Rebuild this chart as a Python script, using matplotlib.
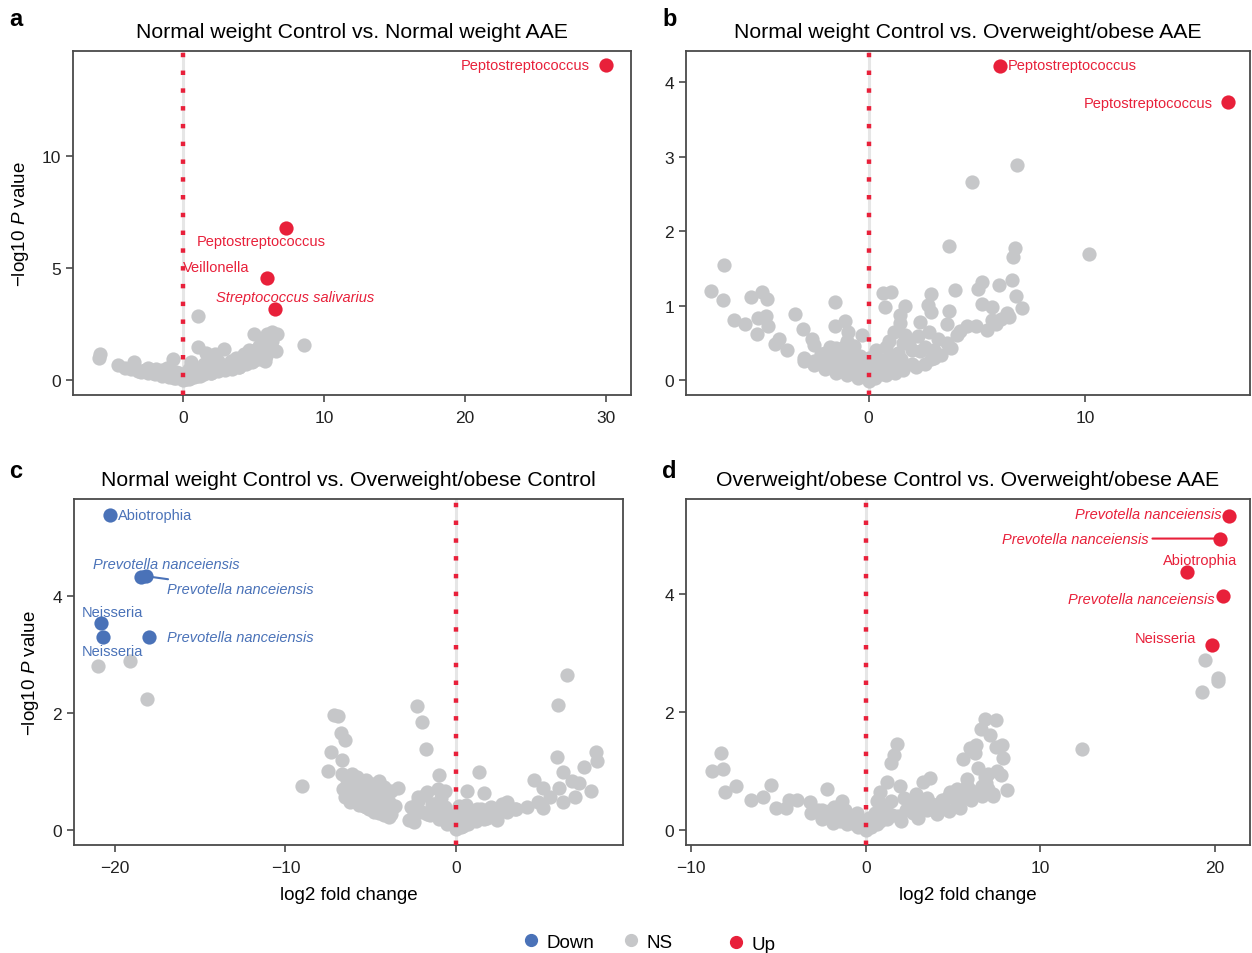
import matplotlib
matplotlib.use("Agg")
import matplotlib.pyplot as plt
from matplotlib.lines import Line2D

plt.rcParams['font.family'] = ['Liberation Sans', 'DejaVu Sans']
plt.rcParams['mathtext.fontset'] = 'custom'
plt.rcParams['mathtext.rm'] = 'Liberation Sans'
plt.rcParams['mathtext.it'] = 'Liberation Sans:italic'

RED = '#E8203A'
BLUE = '#4A72B8'
GREY = '#C6C7C9'

# ---- panel a: Normal weight Control vs. Normal weight AAE
a_ns_x = [-5.98, -5.9, -4.6, -4.1, -3.5, -3.2, -1.9, -0.67, 1.04, 5.07, 6.3, 6.7, 8.6, 1.04, 2.9,
          1.66, 2.25, 6.6, 4.7, 5.8, 3.4, 0.6, 6.0, 5.6, 5.4, 5.1, 4.6, 4.1, 3.5, 2.8, 2.0, 1.2,
          0.44, 0.0, -0.6, -1.4, -2.15, -2.9, -3.7, -1.1, -2.5, 0.44, 1.5, 2.5, 2.0, 2.4, 3.8,
          4.3, 4.8, 5.4, 5.9, 6.3, 5.85, -0.3, 0.7, 0.96, -0.85, 3.0, 3.6, 4.4, 1.8, 2.6, 3.2,
          -1.6, -2.7, 0.2, 1.4, 4.0, 4.9, 5.2,
          -3.0, -2.5, -2.0, -1.5, -1.0, -0.5, 0.2, 0.5, 0.8, 1.0, 1.5, 2.0, 2.5, 3.0, 3.5, 4.0,
          4.5, 5.0, -2.5, -1.5, -0.5, 0.5, 1.5, 2.5, 3.5, 4.5, 5.2, 5.6, 6.0, 6.4]
a_ns_y = [1.0, 1.15, 0.67, 0.55, 0.8, 0.4, 0.5, 0.93, 2.84, 2.07, 2.16, 2.07, 1.57, 1.48, 1.37,
          1.19, 1.15, 1.3, 1.34, 0.85, 0.85, 0.8, 2.04, 1.75, 1.52, 1.22, 1.0, 0.8, 0.63, 0.48,
          0.33, 0.18, 0.03, 0.0, 0.1, 0.25, 0.33, 0.4, 0.48, 0.55, 0.48, 0.48, 0.7, 0.85, 1.0,
          0.7, 1.0, 1.15, 1.3, 0.93, 1.07, 1.75, 1.6, 0.33, 0.33, 0.55, 0.4, 0.6, 0.75, 0.9,
          0.45, 0.7, 0.55, 0.3, 0.45, 0.15, 0.3, 0.6, 0.8, 1.1,
          0.35, 0.3, 0.25, 0.2, 0.15, 0.08, 0.05, 0.1, 0.15, 0.2, 0.25, 0.3, 0.38, 0.45, 0.5,
          0.6, 0.7, 0.85, 0.55, 0.45, 0.35, 0.4, 0.55, 0.65, 0.8, 1.0, 1.2, 1.4, 1.6, 1.95]
a_up_x = [30.0, 7.3, 5.95, 6.57]
a_up_y = [14.06, 6.8, 4.54, 3.19]
a_up_lab = ['Peptostreptococcus', 'Peptostreptococcus', 'Veillonella', 'Streptococcus salivarius']

# ---- panel b: Normal weight Control vs. Overweight/obese AAE
b_ns_x = [6.84, 4.76, 3.70, 6.76, 6.67, 10.17, -6.66, -7.28, -6.74, -5.43, -4.91, -4.71, -6.22,
          -5.71, -5.13, -4.74, -4.66, -3.39, -3.03, -1.55, -1.56, -1.09, -0.96, -5.16, -4.12,
          -4.34, -3.75, -2.99, -2.52, 0.67, 1.04, 0.77, 1.68, 2.89, 4.0, 5.21, 5.04, 6.0, 6.62,
          6.82, 7.06, 5.24, 5.71, 6.39, 3.70, 3.63, 2.74, 2.86, 1.43, 1.43, 2.35, 1.18, 1.68,
          2.77, 3.19, 4.07, 4.54, 4.96, 5.46, 5.71, 6.13, 3.78, 3.36, 2.86, 2.27, 0.92, 0.34,
          1.85, 1.34, 2.35, 2.02, 1.34, 0.67, 0.17, 0.0, -0.5, -1.18, -1.68, -2.18, -2.52,
          -2.02, -1.51, -1.01, -0.67, -0.42, -0.84, -1.34, -1.85, -0.25, 0.42, 0.92, 1.51,
          3.03, 4.2, -1.09, 0.3, 0.55, 1.0, -0.3, -0.7, 2.6, 3.6, 5.9, 6.5,
          -3.0, -2.5, -2.0, -1.5, -1.0, -0.5, 0.3, 0.8, 1.2, 1.6, 2.2, 2.6, 3.0, -2.2, -1.2,
          -0.4, 0.4, 1.2, 2.0, -1.8, -0.8, 0.0, 0.8, 1.6, -0.3, -2.6]
b_ns_y = [2.89, 2.66, 1.80, 1.78, 1.66, 1.70, 1.55, 1.20, 1.07, 1.11, 1.18, 1.09, 0.81, 0.76,
          0.84, 0.86, 0.72, 0.89, 0.68, 1.05, 0.72, 0.80, 0.64, 0.62, 0.55, 0.49, 0.40, 0.30,
          0.47, 1.17, 1.19, 0.98, 0.99, 1.16, 1.21, 1.32, 1.23, 1.28, 1.35, 1.13, 0.97, 1.02,
          0.98, 0.90, 0.93, 0.76, 1.01, 0.91, 0.87, 0.77, 0.78, 0.64, 0.61, 0.64, 0.55, 0.61,
          0.72, 0.73, 0.67, 0.81, 0.82, 0.43, 0.34, 0.29, 0.59, 0.52, 0.41, 0.48, 0.37, 0.39,
          0.21, 0.14, 0.08, 0.03, -0.01, 0.05, 0.12, 0.17, 0.21, 0.26, 0.37, 0.43, 0.52, 0.46,
          0.32, 0.28, 0.28, 0.30, 0.21, 0.28, 0.32, 0.28, 0.41, 0.66, 0.46, 0.15, 0.22, 0.2,
          0.12, 0.2, 0.45, 0.5, 0.75, 0.85,
          0.25, 0.2, 0.15, 0.1, 0.07, 0.03, 0.03, 0.07, 0.1, 0.13, 0.17, 0.22, 0.3, 0.35, 0.3,
          0.2, 0.2, 0.3, 0.4, 0.45, 0.45, 0.3, 0.45, 0.5, 0.6, 0.55]
b_up_x = [6.05, 16.6]
b_up_y = [4.22, 3.74]
b_up_lab = ['Peptostreptococcus', 'Peptostreptococcus']

# ---- panel c: Normal weight Control vs. Overweight/obese Control
c_ns_x = [-20.99, -19.1, -18.1, 6.54, 5.97, -2.26, -1.97, -1.78, -7.15, -6.9, -6.73, -6.52,
          -7.3, -6.69, -7.53, -9.04, 5.95, 8.22, 8.3, 7.53, 6.27, 4.59, 5.12, 6.06, 6.79, 7.21,
          7.95, 7.0, 6.27, 5.53, 4.8, 4.17, 5.12, 1.34, 1.66, 0.67, -1.0, -0.65, -1.07, -1.7,
          -2.22, -1.28, -2.64, -2.75, -2.43, -1.7, -0.65, -0.96, -0.44, 0.0, 0.4, 1.03, 1.66,
          2.39, 0.61, 1.24, 2.08, 2.7, 3.02, 3.44, 2.52, 1.89, -6.1, -6.0, -6.42, -6.52, -6.21,
          -5.68, -5.26, -4.63, -4.21, -3.79, -3.69, -3.9, -3.37, -3.79, -4.21, -4.53, -4.95,
          -5.47, -5.68, -5.16, -4.63, -4.21, -4.84, -5.47, -6.3, -5.9, -5.0, -4.4, 0.9, 1.9,
          2.9, -0.3, 0.2,
          -6.6, -6.3, -6.0, -5.7, -5.4, -5.1, -4.8, -4.5, -4.2, -3.9, -6.4, -6.0, -5.6, -5.2,
          -4.8, -4.4, -4.0, -3.6, -5.8, -5.3, -4.9, -4.5, -6.7,
          -2.5, -2.0, -1.5, -1.0, -0.5, 0.3, 0.7, 1.2, 1.8, 2.4, 3.0, 3.5, -2.2, -1.4, -0.8,
          -0.3, 0.5, 1.0, 1.5, 2.0, -1.8, -0.9, 0.2]
c_ns_y = [2.81, 2.89, 2.23, 2.65, 2.13, 2.11, 1.85, 1.39, 1.96, 1.94, 1.65, 1.54, 1.33, 1.19,
          1.0, 0.75, 1.25, 1.33, 1.17, 1.07, 0.99, 0.86, 0.71, 0.71, 0.83, 0.80, 0.66, 0.56,
          0.47, 0.56, 0.47, 0.39, 0.37, 0.99, 0.63, 0.67, 0.94, 0.66, 0.69, 0.65, 0.56, 0.45,
          0.39, 0.16, 0.14, 0.27, 0.39, 0.22, 0.13, 0.02, 0.07, 0.16, 0.19, 0.16, 0.42, 0.36,
          0.39, 0.45, 0.47, 0.36, 0.30, 0.27, 0.96, 0.85, 0.73, 0.56, 0.47, 0.42, 0.39, 0.33,
          0.30, 0.27, 0.39, 0.47, 0.72, 0.67, 0.73, 0.83, 0.79, 0.79, 0.65, 0.59, 0.56, 0.45,
          0.47, 0.53, 0.65, 0.6, 0.5, 0.6, 0.25, 0.3, 0.35, 0.12, 0.1,
          0.7, 0.6, 0.5, 0.45, 0.4, 0.35, 0.3, 0.28, 0.25, 0.22, 0.85, 0.75, 0.65, 0.6, 0.55,
          0.5, 0.45, 0.4, 0.9, 0.85, 0.7, 0.65, 0.95,
          0.35, 0.3, 0.25, 0.18, 0.1, 0.05, 0.1, 0.15, 0.2, 0.25, 0.3, 0.35, 0.5, 0.45, 0.35,
          0.25, 0.25, 0.3, 0.35, 0.38, 0.6, 0.55, 0.4]
c_down_x = [-20.29, -18.46, -18.19, -20.82, -20.67, -18.0]
c_down_y = [5.39, 4.33, 4.34, 3.54, 3.30, 3.30]
c_down_lab = ['Abiotrophia', 'Prevotella nanceiensis', 'Prevotella nanceiensis',
              'Neisseria', 'Neisseria', 'Prevotella nanceiensis']

# ---- panel d: Overweight/obese Control vs. Overweight/obese AAE
d_ns_x = [19.44, 20.17, 20.17, 19.23, 12.4, -8.3, -8.83, -8.2, -8.06, -7.43, -5.45, -6.6, -5.91,
          -5.14, -4.57, -4.4, -3.92, -3.19, -2.25, -1.38, -3.15, -2.53, -1.9, -1.06, -0.44, 0.0,
          0.61, 1.23, 1.86, 2.69, 3.53, 4.36, 5.2, 6.03, 6.66, 7.29, 1.8, 1.61, 1.44, 1.23, 1.96,
          0.79, 0.71, 3.7, 3.28, 2.9, 2.17, 1.44, 2.0, 3.0, 4.05, 6.83, 7.48, 6.62, 7.12, 5.97,
          6.28, 6.24, 7.46, 7.81, 7.87, 5.57, 6.41, 5.78, 6.97, 7.75, 8.06, 5.2, 7.29, 4.68,
          4.36, 5.62, 6.45, 6.66, 5.41, 4.78, -1.27, -1.69, -2.11, -2.73, -0.65, 0.61, 1.13,
          3.2, 4.9, 5.9, 6.9, 2.4,
          -2.0, -1.5, -1.0, -0.6, -2.5, -1.8, -1.2, -0.5, 0.3, 0.8, 1.5, 2.3, 3.0, 3.8, 4.5,
          5.5, 6.3, 7.0, 0.5, 1.0, 2.5, 3.5, 4.8, 5.8, 6.8, 7.5, 0.2, -0.3]
d_ns_y = [2.88, 2.58, 2.52, 2.34, 1.37, 1.30, 1.01, 1.03, 0.65, 0.75, 0.77, 0.51, 0.56, 0.38,
          0.38, 0.52, 0.51, 0.48, 0.69, 0.50, 0.30, 0.19, 0.13, 0.10, 0.05, 0.0, 0.10, 0.19,
          0.24, 0.30, 0.35, 0.41, 0.47, 0.52, 0.58, 0.61, 1.46, 1.28, 1.14, 0.81, 0.75, 0.64,
          0.52, 0.89, 0.81, 0.62, 0.55, 0.50, 0.16, 0.21, 0.27, 1.88, 1.86, 1.72, 1.61, 1.39,
          1.44, 1.30, 1.41, 1.44, 1.22, 1.20, 1.05, 0.87, 0.95, 0.93, 0.68, 0.69, 0.58, 0.56,
          0.51, 0.58, 0.64, 0.75, 0.38, 0.33, 0.33, 0.27, 0.33, 0.35, 0.21, 0.50, 0.35, 0.45,
          0.6, 0.7, 0.8, 0.4,
          0.2, 0.15, 0.2, 0.1, 0.35, 0.4, 0.35, 0.3, 0.05, 0.15, 0.25, 0.35, 0.4, 0.45, 0.5,
          0.55, 0.65, 0.7, 0.3, 0.4, 0.5, 0.55, 0.65, 0.75, 0.9, 1.0, 0.2, 0.15]
d_up_x = [20.81, 20.31, 18.41, 20.48, 19.85]
d_up_y = [5.32, 4.94, 4.37, 3.96, 3.14]
d_up_lab = ['Prevotella nanceiensis', 'Prevotella nanceiensis', 'Abiotrophia',
            'Prevotella nanceiensis', 'Neisseria']

legend_labels = ['Down', 'NS', 'Up']
legend_colors = [BLUE, GREY, RED]

fig = plt.figure(figsize=(12.52, 9.54), dpi=100)
W, H = 1252.0, 954.0


def make_ax(l, r, t, b):
    return fig.add_axes([l / W, 1 - b / H, (r - l) / W, (b - t) / H])


def style(ax, title, xlim, ylim, xt, yt):
    ax.set_xlim(*xlim)
    ax.set_ylim(*ylim)
    ax.set_xticks(xt)
    ax.set_yticks(yt)
    ax.set_title(title, fontsize=15.3, pad=10)
    for s in ax.spines.values():
        s.set_color('#4a4a4a')
        s.set_linewidth(1.3)
    ax.tick_params(direction='out', length=5, width=1.2, color='#4a4a4a', labelsize=12.5,
                   labelcolor='#222222')
    ax.tick_params(axis='x', pad=6)
    ax.axvline(0, color='#e6e6e6', lw=2.2, zorder=1)


def volcano(ax, nsx, nsy):
    ax.scatter(nsx, nsy, s=105, color=GREY, linewidths=0, zorder=2)
    ax.axvline(0, color=RED, lw=3.2, linestyle=(0, (1, 3)), zorder=3, dash_capstyle='butt')


def label(ax, x, y, txt, off, color, ha='left', italic=False, line=False):
    kw = dict(xy=(x, y), xytext=off, textcoords='offset points', ha=ha, va='center',
              fontsize=10.5, color=color, zorder=6)
    if italic:
        kw['fontstyle'] = 'italic'
    if line:
        kw['arrowprops'] = dict(arrowstyle='-', color=color, lw=1.5, shrinkA=1, shrinkB=3)
    ax.annotate(txt, **kw)


# a
ax = make_ax(73, 631, 52, 396)
style(ax, 'Normal weight Control vs. Normal weight AAE', (-7.8, 31.8), (-0.67, 14.7),
      [0, 10, 20, 30], [0, 5, 10])
volcano(ax, a_ns_x, a_ns_y)
ax.scatter(a_up_x, a_up_y, s=105, color=RED, linewidths=0, zorder=5)
ax.set_ylabel('−log10 $P$ value', fontsize=13.5, labelpad=8)
a_off = [(-11.5, 0), (-64, -9.4), (-60.5, 8), (-42.5, 8.6)]
a_ha = ['right', 'left', 'left', 'left']
a_ital = [False, False, False, True]
for x, y, t, o, h, it in zip(a_up_x, a_up_y, a_up_lab, a_off, a_ha, a_ital):
    label(ax, x, y, t, o, RED, ha=h, italic=it)

# b
ax = make_ax(686, 1250, 52, 396)
style(ax, 'Normal weight Control vs. Overweight/obese AAE', (-8.43, 17.6), (-0.2, 4.42),
      [0, 10], [0, 1, 2, 3, 4])
volcano(ax, b_ns_x, b_ns_y)
ax.scatter(b_up_x, b_up_y, s=105, color=RED, linewidths=0, zorder=5)
label(ax, b_up_x[0], b_up_y[0], b_up_lab[0], (5.5, 0.7), RED, ha='left')
label(ax, b_up_x[1], b_up_y[1], b_up_lab[1], (-11.5, -0.7), RED, ha='right')

# c
ax = make_ax(74, 623, 500, 846)
style(ax, 'Normal weight Control vs. Overweight/obese Control', (-22.4, 9.8), (-0.26, 5.66),
      [-20, -10, 0], [0, 2, 4])
volcano(ax, c_ns_x, c_ns_y)
ax.scatter(c_down_x, c_down_y, s=105, color=BLUE, linewidths=0, zorder=5)
ax.set_ylabel('−log10 $P$ value', fontsize=13.5, labelpad=8)
ax.set_xlabel('log2 fold change', fontsize=13.5, labelpad=8)
c_off = [(5.8, 0), (-35, 9.4), (15, -9.4), (-13.7, 7.9), (-15.8, -10), (13, 0)]
c_ital = [False, True, True, False, False, True]
c_line = [False, False, True, False, False, False]
for x, y, t, o, it, ln in zip(c_down_x, c_down_y, c_down_lab, c_off, c_ital, c_line):
    label(ax, x, y, t, o, BLUE, italic=it, line=ln)

# d
ax = make_ax(686, 1250, 500, 846)
style(ax, 'Overweight/obese Control vs. Overweight/obese AAE', (-10.3, 22.0), (-0.25, 5.61),
      [-10, 0, 10, 20], [0, 2, 4])
volcano(ax, d_ns_x, d_ns_y)
ax.scatter(d_up_x, d_up_y, s=105, color=RED, linewidths=0, zorder=5)
ax.set_xlabel('log2 fold change', fontsize=13.5, labelpad=8)
d_off = [(-5.8, 1.4), (-52, 0), (9.4, 8.6), (-6.5, -2), (-11.5, 5)]
d_ha = ['right', 'right', 'center', 'right', 'right']
d_ital = [True, True, False, True, False]
d_line = [False, True, False, False, False]
for x, y, t, o, h, it, ln in zip(d_up_x, d_up_y, d_up_lab, d_off, d_ha, d_ital, d_line):
    label(ax, x, y, t, o, RED, ha=h, italic=it, line=ln)

# panel letters
for t, px, py in [('a', 9, 20), ('b', 662, 20), ('c', 9, 472), ('d', 662, 472)]:
    fig.text(px / W, 1 - py / H, t, fontsize=17, fontweight='bold', va='center', ha='left')

# legend, one entry each so the uneven spacing of the original can be kept
for lab, col, px, py in zip(legend_labels, legend_colors, [523, 623, 728], [943, 943, 945]):
    h = Line2D([], [], marker='o', linestyle='', color=col, markersize=8.5, label=lab)
    fig.legend(handles=[h], loc='center left', bbox_to_anchor=(px / W, 1 - py / H),
               frameon=False, fontsize=13.5, handlelength=0.8, handletextpad=0.45,
               borderpad=0, borderaxespad=0)

fig.savefig('out.png', dpi=100)
